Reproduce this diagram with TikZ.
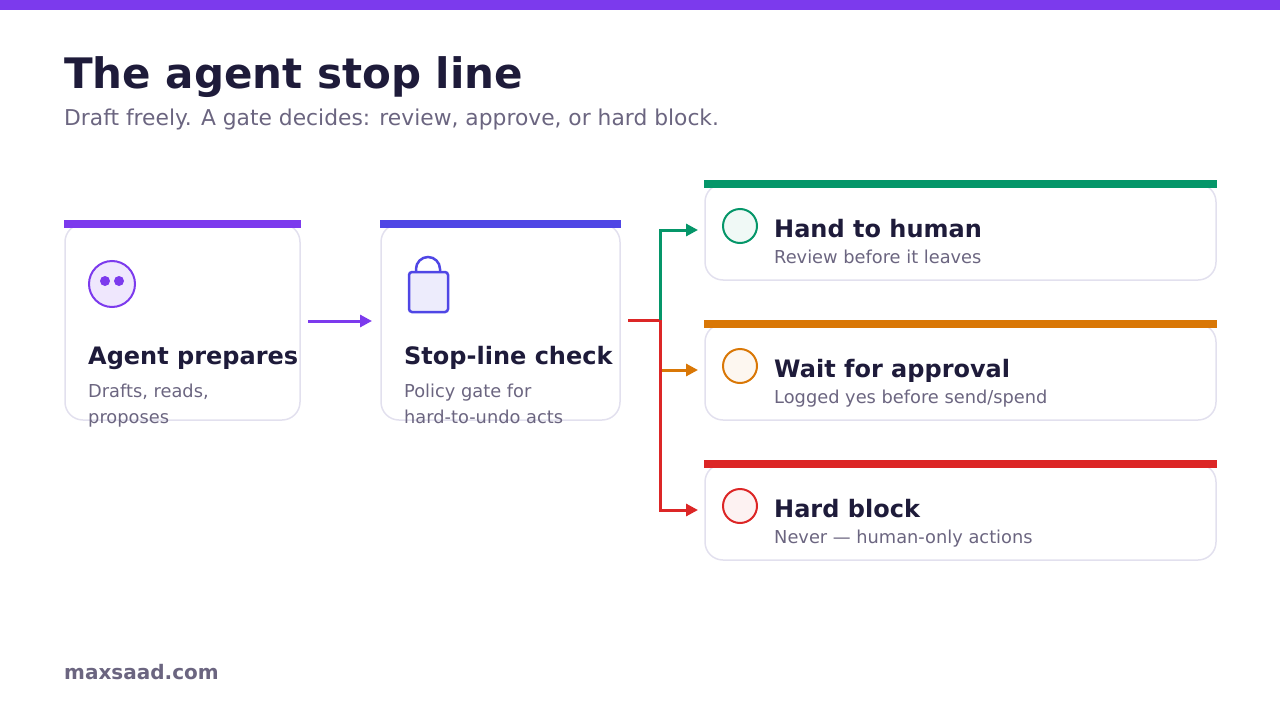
\documentclass[tikz,border=0pt]{standalone}
\usepackage{fontspec}
\setmainfont{DejaVu Sans}
\usetikzlibrary{arrows.meta,positioning}
\definecolor{cPurple}{HTML}{7C3AED}
\definecolor{cIndigo}{HTML}{4F46E5}
\definecolor{cGreen}{HTML}{059669}
\definecolor{cOrange}{HTML}{D97706}
\definecolor{cRed}{HTML}{DC2626}
\definecolor{cInk}{HTML}{1E1B3A}
\definecolor{cMuted}{HTML}{6B6580}
\definecolor{cEdge}{HTML}{E2E0EE}
\tikzset{
  card/.style={draw=cEdge,line width=1.5pt,rounded corners=18pt},
  cardtitle/.style={anchor=base west,inner sep=0,text=cInk,font=\fontsize{24}{28}\selectfont\bfseries},
  cardtext/.style={anchor=base west,inner sep=0,text=cMuted,font=\fontsize{17.8}{26}\selectfont,align=left},
  flow/.style={line width=3pt,-{Triangle[length=12pt,width=12pt]}},
}
\begin{document}
\begin{tikzpicture}[x=1pt,y=-1pt]
        \useasboundingbox (0,0) rectangle (1280,720);
        \fill[cPurple] (0,0) rectangle (1280,10);
        % Title
        \node[anchor=base west,inner sep=0,text=cInk,font=\fontsize{42}{50}\selectfont\bfseries] (title) at (64,88) {The agent stop line};
        \node[anchor=base west,inner sep=0,text=cMuted,font=\fontsize{21.8}{26}\selectfont] (subtitle) at (64,125) {Draft freely. A gate decides: review, approve, or hard block.};
        % Left cards
        \draw[card] (65,224) rectangle (300,420);
        \fill[cPurple] (64,220) rectangle (301,228);
        \draw[card] (381,224) rectangle (620,420);
        \fill[cIndigo] (380,220) rectangle (621,228);
        % Icons
        \draw[cPurple,line width=2pt,fill=cPurple!12] (112,284) circle (23);
        \fill[cPurple] (105,281) circle (5) (119,281) circle (5);
        \draw[cIndigo,line width=2.5pt] (416,272) -- (416,269) arc (180:360:12) -- (440,272);
        \draw[cIndigo,line width=2.5pt,fill=cIndigo!10,rounded corners=3pt] (409,272) rectangle (448,312);
        \node[cardtitle] (prep) at (88,364) {Agent prepares};
        \node[cardtext] (prepT) at (88,423) {Drafts, reads,\\proposes};
        \node[cardtitle] (check) at (404,364) {Stop-line check};
        \node[cardtext] (checkT) at (404,423) {Policy gate for\\hard-to-undo acts};
        % Right cards
        \foreach \y/\c/\t/\s/\n in {180/cGreen/Hand to human/Review before it leaves/human,
                                   320/cOrange/Wait for approval/Logged yes before send\slash spend/wait,
                                   460/cRed/Hard block/Never — human-only actions/block}{
          \draw[card] (705,\y+4) rectangle (1216,\y+100);
          \fill[\c] (704,\y) rectangle (1217,\y+8);
          \draw[\c,line width=2pt,fill=\c!6] (740,\y+46) circle (17);
          \node[cardtitle] (\n) at (774,\y+57) {\t};
          \node[cardtext] (\n T) at (774,\y+83) {\s};
        }
        % Connectors
        \coordinate (a1) at (308,321);
        \coordinate (a2) at (372,321);
        \coordinate (gate) at (628,320);
        \coordinate (fork) at (660,320);
        \coordinate (toHuman) at (698,230);
        \coordinate (toWait) at (698,370);
        \coordinate (toBlock) at (698,510);
        \draw[flow,cPurple] (a1) -- (a2);
        \draw[line width=3pt,cRed] (gate) -- (fork);
        \draw[flow,cGreen] (fork) |- (toHuman);
        \draw[flow,cOrange] (fork |- toWait) -- (toWait);
        \draw[flow,cRed] (fork) |- (toBlock);
        % Footer
        \node[anchor=base west,inner sep=0,text=cMuted,font=\fontsize{20}{24}\selectfont\bfseries] (footer) at (64,679) {maxsaad.com};
\end{tikzpicture}
\end{document}
